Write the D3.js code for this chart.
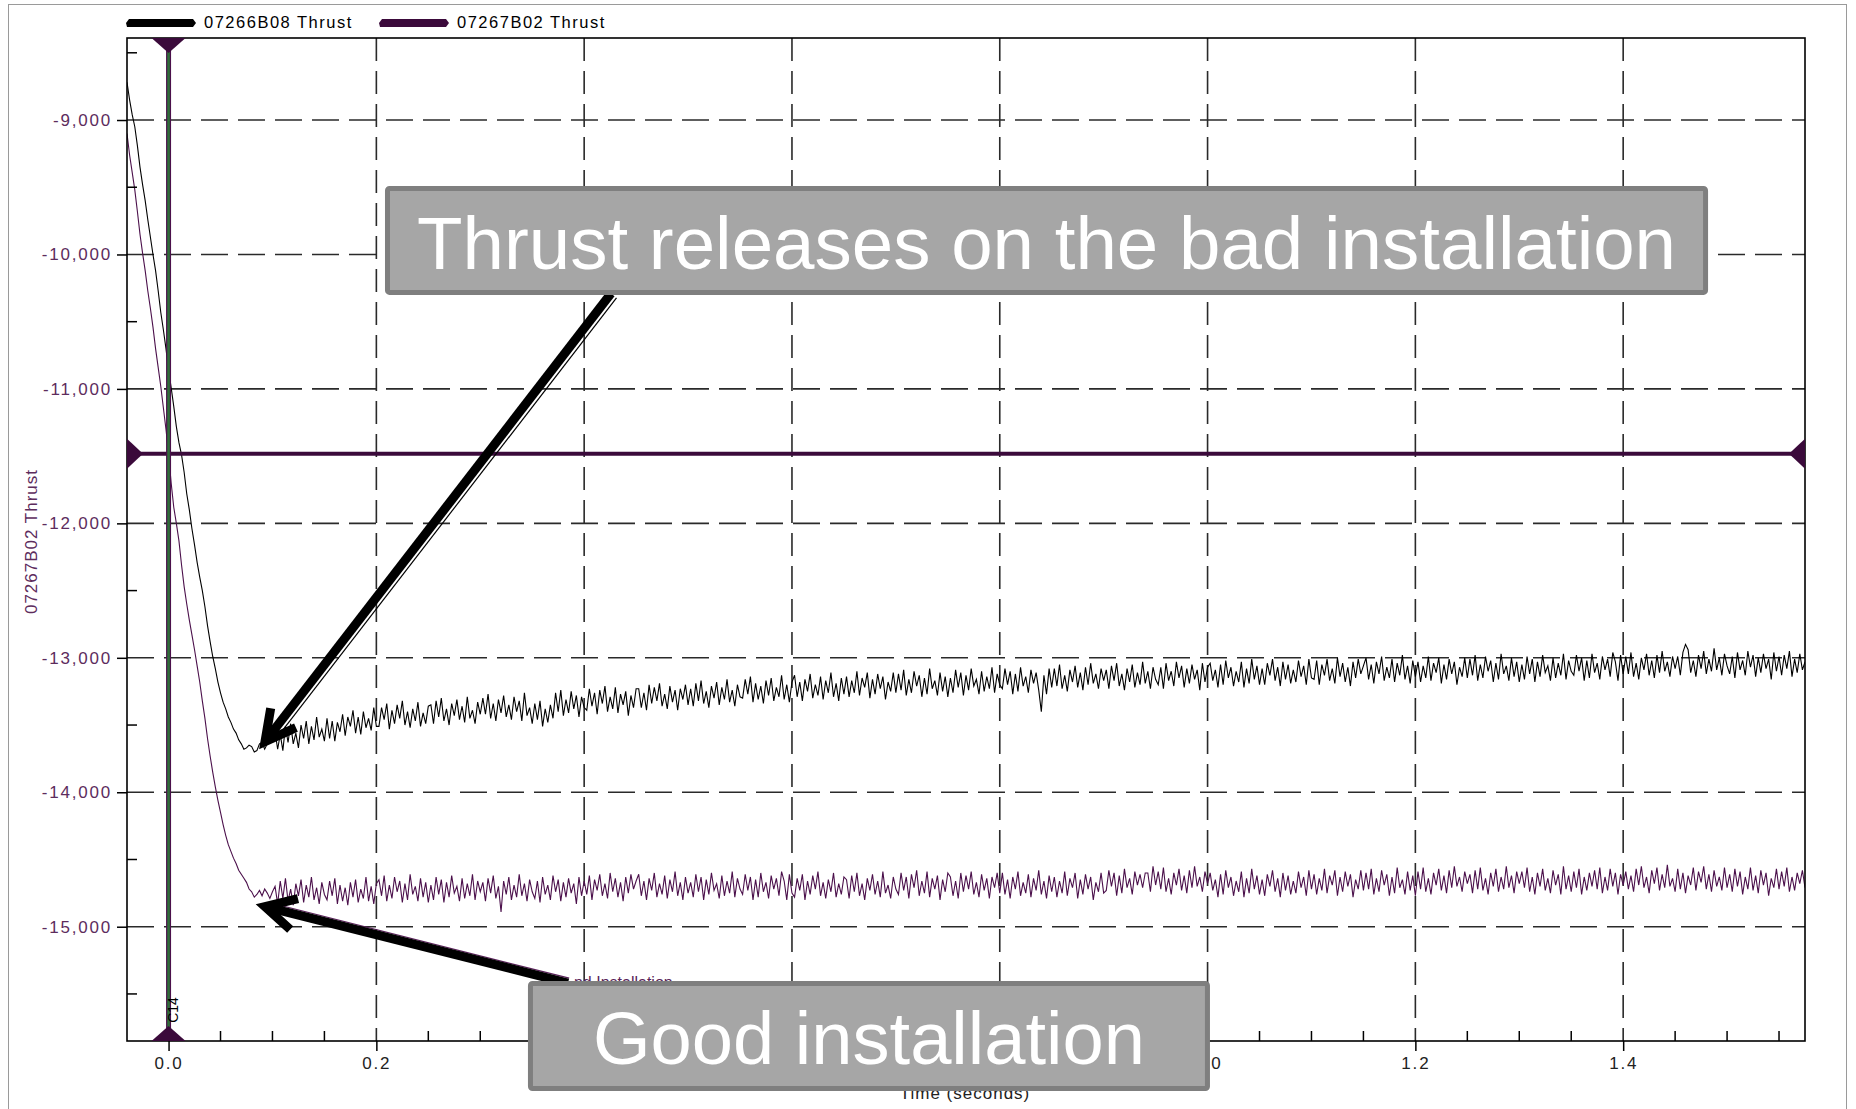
<!DOCTYPE html>
<html><head><meta charset="utf-8">
<script src="https://cdn.jsdelivr.net/npm/d3@7/dist/d3.min.js"></script>
<style>html,body{margin:0;padding:0;background:#fff;overflow:hidden}svg{display:block}</style>
</head><body>
<svg id="chart" width="1856" height="1109"></svg>
<script>
// ---------------- DATA ----------------
const seriesNames = ["07266B08 Thrust", "07267B02 Thrust"];
const yAxisTitle = "07267B02 Thrust";
const xAxisTitle = "Time  (seconds)";
const sampleStart = -0.04;     // seconds, first sample
const sampleStep = 0.0025;     // seconds between samples

const thrust07266B08 = [
  -8720,-8850,-8960,-9050,-9190,-9350,-9480,-9600,-9740,-9870,-10000,-10120,-10270,-10430,-10560,-10700,-10860,-10990,-11130,-11280,
  -11400,-11490,-11620,-11780,-11900,-12040,-12160,-12290,-12400,-12500,-12620,-12760,-12880,-12990,-13080,-13180,-13260,-13330,-13380,-13440,
  -13480,-13530,-13560,-13610,-13640,-13680,-13670,-13650,-13660,-13700,-13690,-13640,-13630,-13680,-13640,-13590,-13600,
  // 0.1025 - 0.2
  -13550,-13680,-13570,-13690,-13510,-13630,-13490,-13640,-13560,-13670,-13500,-13600,-13470,-13640,-13510,-13610,-13440,-13590,-13530,-13620,
  -13450,-13600,-13470,-13620,-13480,-13550,-13420,-13580,-13440,-13510,-13390,-13560,-13440,-13570,-13400,-13520,-13450,-13540,-13370,-13510,
  // 0.2 - 0.3
  -13510,-13370,-13460,-13340,-13530,-13390,-13490,-13350,-13450,-13320,-13500,-13400,-13520,-13380,-13470,-13330,-13510,-13410,-13490,-13360,
  -13350,-13490,-13320,-13440,-13300,-13470,-13380,-13500,-13340,-13430,-13310,-13460,-13360,-13480,-13290,-13450,-13390,-13490,-13330,-13420,
  // 0.3 - 0.4
  -13300,-13420,-13270,-13450,-13340,-13470,-13310,-13410,-13280,-13440,-13350,-13460,-13290,-13400,-13320,-13470,-13260,-13430,-13370,-13490,
  -13340,-13460,-13320,-13510,-13380,-13480,-13350,-13450,-13260,-13400,-13240,-13430,-13310,-13410,-13250,-13380,-13280,-13440,-13290,-13370,
  // 0.4 - 0.5
  -13390,-13230,-13360,-13260,-13420,-13240,-13340,-13210,-13400,-13290,-13380,-13220,-13410,-13270,-13350,-13250,-13430,-13280,-13370,-13230,
  -13230,-13370,-13260,-13390,-13200,-13340,-13220,-13320,-13190,-13360,-13270,-13380,-13210,-13330,-13240,-13390,-13230,-13310,-13200,-13350,
  // 0.5 - 0.6
  -13230,-13360,-13190,-13320,-13170,-13340,-13250,-13370,-13210,-13300,-13180,-13350,-13220,-13310,-13160,-13330,-13240,-13360,-13200,-13290,
  -13300,-13160,-13270,-13140,-13330,-13190,-13310,-13210,-13340,-13170,-13280,-13150,-13320,-13220,-13290,-13130,-13310,-13200,-13330,-13180,
  // 0.6 - 0.7
  -13130,-13290,-13180,-13320,-13160,-13250,-13120,-13300,-13200,-13280,-13140,-13310,-13170,-13260,-13110,-13290,-13190,-13320,-13150,-13270,
  -13140,-13290,-13170,-13260,-13100,-13280,-13150,-13220,-13110,-13300,-13160,-13270,-13120,-13230,-13140,-13310,-13180,-13250,-13110,-13260,
  // 0.7 - 0.8
  -13120,-13240,-13090,-13280,-13160,-13260,-13100,-13210,-13130,-13290,-13150,-13270,-13080,-13230,-13170,-13280,-13110,-13250,-13140,-13290,
  -13150,-13260,-13090,-13220,-13110,-13280,-13130,-13240,-13080,-13210,-13160,-13270,-13100,-13250,-13140,-13230,-13070,-13260,-13120,-13200,
  // 0.8 - 0.9
  -13230,-13080,-13200,-13100,-13270,-13120,-13250,-13070,-13210,-13140,-13260,-13090,-13190,-13110,-13240,-13400,-13130,-13270,-13080,-13220,
  -13080,-13210,-13050,-13230,-13130,-13250,-13090,-13180,-13060,-13220,-13110,-13240,-13070,-13200,-13040,-13190,-13120,-13230,-13080,-13170,
  // 0.9 - 1.0
  -13090,-13230,-13060,-13170,-13040,-13210,-13120,-13240,-13080,-13180,-13050,-13220,-13110,-13200,-13030,-13190,-13100,-13230,-13070,-13160,
  -13200,-13070,-13230,-13040,-13170,-13100,-13210,-13030,-13150,-13060,-13220,-13080,-13190,-13050,-13160,-13090,-13240,-13040,-13180,-13070,
  // 1.0 - 1.1
  -13040,-13170,-13090,-13220,-13050,-13200,-13020,-13150,-13070,-13210,-13100,-13180,-13030,-13220,-13080,-13190,-13010,-13160,-13060,-13200,
  -13080,-13200,-13040,-13130,-13010,-13170,-13070,-13210,-13030,-13160,-13050,-13190,-13090,-13180,-13020,-13140,-13060,-13200,-13010,-13150,
  // 1.1 - 1.2
  -13160,-13020,-13200,-13050,-13130,-13010,-13170,-13080,-13190,-13000,-13140,-13040,-13180,-13070,-13210,-13030,-13150,-13010,-13120,-13060,
  -13000,-13160,-13050,-13190,-13030,-13120,-12990,-13170,-13070,-13150,-13010,-13180,-13040,-13130,-12980,-13160,-13060,-13190,-13020,-13140,
  // 1.2 - 1.3
  -13030,-13180,-13060,-13150,-12990,-13170,-13040,-13110,-13000,-13190,-13050,-13160,-13010,-13120,-13030,-13200,-13070,-13140,-13000,-13150,
  -13010,-13130,-12980,-13170,-13050,-13150,-12990,-13100,-13020,-13180,-13040,-13160,-12970,-13120,-13060,-13170,-13000,-13140,-13030,-13180,
  // 1.3 - 1.4
  -13050,-13160,-12990,-13120,-13010,-13180,-13030,-13140,-12980,-13110,-13060,-13170,-13000,-13150,-13040,-13130,-12970,-13160,-13020,-13100,
  -13130,-12980,-13100,-13000,-13170,-13020,-13150,-12970,-13110,-13040,-13160,-12990,-13090,-13010,-13140,-12960,-13030,-13170,-12980,-13120,
  // 1.4 - 1.5
  -12990,-13120,-12960,-13140,-13040,-13160,-13000,-13090,-12970,-13130,-13020,-13150,-12980,-13110,-12950,-13100,-13030,-13140,-12990,-13080,
  -12990,-13130,-12960,-12900,-12940,-13110,-13020,-13140,-12980,-13080,-12950,-13120,-13010,-13100,-12930,-13090,-13000,-13130,-12970,-13060,
  // 1.5 - 1.575
  -13120,-12990,-13150,-12960,-13090,-13020,-13130,-12950,-13070,-12980,-13140,-13000,-13110,-12970,-13080,-13010,-13160,-12960,-13100,-12990,
  -13130,-12980,-13080,-12950,-13140,-13010,-13110,-12970,-13090,-13030
];

const thrust07267B02 = [
  -9100,-9260,-9390,-9520,-9680,-9850,-9990,-10120,-10270,-10400,-10540,-10700,-10840,-10980,-11140,-11300,-11480,-11700,-11880,-12000,
  -12130,-12310,-12470,-12600,-12720,-12830,-12940,-13060,-13180,-13320,-13450,-13600,-13730,-13850,-13960,-14060,-14150,-14240,-14320,-14390,
  -14440,-14490,-14530,-14580,-14610,-14640,-14670,-14720,-14740,-14780,-14760,-14730,-14770,-14720,-14750,-14790,-14740,
  // 0.1025 - 0.2
  -14700,-14830,-14660,-14790,-14640,-14810,-14720,-14840,-14680,-14770,-14650,-14820,-14690,-14780,-14630,-14800,-14710,-14830,-14670,-14760,
  -14800,-14660,-14770,-14640,-14830,-14690,-14810,-14710,-14840,-14670,-14780,-14650,-14820,-14720,-14790,-14630,-14810,-14700,-14830,-14680,
  // 0.2 - 0.3
  -14650,-14770,-14620,-14810,-14690,-14790,-14630,-14740,-14660,-14820,-14680,-14800,-14610,-14760,-14700,-14810,-14640,-14780,-14670,-14820,
  -14690,-14800,-14630,-14760,-14650,-14820,-14670,-14780,-14620,-14750,-14700,-14810,-14640,-14790,-14680,-14770,-14610,-14800,-14660,-14740,
  // 0.3 - 0.4
  -14670,-14810,-14640,-14750,-14620,-14790,-14700,-14890,-14660,-14760,-14630,-14800,-14690,-14780,-14610,-14770,-14680,-14810,-14650,-14740,
  -14790,-14660,-14820,-14630,-14760,-14690,-14800,-14620,-14740,-14650,-14810,-14670,-14780,-14640,-14750,-14680,-14830,-14630,-14770,-14660,
  // 0.4 - 0.5
  -14760,-14620,-14800,-14650,-14730,-14610,-14770,-14680,-14790,-14600,-14740,-14640,-14780,-14670,-14810,-14630,-14750,-14610,-14720,-14660,
  -14610,-14770,-14660,-14800,-14640,-14730,-14600,-14780,-14680,-14760,-14620,-14790,-14650,-14740,-14590,-14770,-14670,-14800,-14630,-14750,
  // 0.5 - 0.6
  -14670,-14780,-14610,-14740,-14630,-14800,-14650,-14760,-14600,-14730,-14680,-14790,-14620,-14770,-14660,-14750,-14590,-14780,-14640,-14720,
  -14760,-14610,-14730,-14630,-14800,-14650,-14780,-14600,-14740,-14670,-14790,-14620,-14720,-14640,-14770,-14590,-14660,-14800,-14610,-14750,
  // 0.6 - 0.7
  -14780,-14640,-14730,-14610,-14800,-14660,-14760,-14620,-14720,-14590,-14770,-14670,-14790,-14650,-14740,-14600,-14780,-14680,-14760,-14630,
  -14650,-14790,-14620,-14740,-14600,-14770,-14680,-14800,-14640,-14730,-14610,-14760,-14660,-14780,-14590,-14750,-14690,-14790,-14630,-14720,
  // 0.7 - 0.8
  -14760,-14600,-14730,-14630,-14790,-14610,-14710,-14580,-14770,-14660,-14750,-14590,-14780,-14640,-14720,-14620,-14800,-14650,-14740,-14600,
  -14630,-14770,-14660,-14790,-14600,-14740,-14620,-14720,-14590,-14760,-14670,-14780,-14610,-14730,-14640,-14790,-14630,-14710,-14600,-14750,
  // 0.8 - 0.9
  -14600,-14760,-14650,-14790,-14630,-14720,-14590,-14770,-14670,-14750,-14610,-14780,-14640,-14730,-14580,-14760,-14660,-14790,-14620,-14740,
  -14630,-14780,-14660,-14750,-14590,-14770,-14640,-14710,-14600,-14790,-14650,-14760,-14610,-14720,-14630,-14800,-14670,-14740,-14600,-14750,
  // 0.9 - 1.0
  -14730,-14580,-14700,-14600,-14770,-14620,-14750,-14570,-14710,-14640,-14760,-14590,-14690,-14610,-14710,-14600,-14600,-14740,-14550,-14690,
  -14590,-14720,-14560,-14740,-14640,-14760,-14600,-14690,-14570,-14730,-14620,-14750,-14580,-14710,-14550,-14700,-14630,-14740,-14590,-14680,
  // 1.0 - 1.1
  -14600,-14730,-14650,-14780,-14610,-14760,-14580,-14710,-14630,-14770,-14660,-14740,-14590,-14780,-14640,-14750,-14570,-14720,-14620,-14760,
  -14650,-14770,-14610,-14700,-14580,-14740,-14640,-14780,-14600,-14730,-14620,-14760,-14660,-14750,-14590,-14710,-14630,-14770,-14580,-14720,
  // 1.1 - 1.2
  -14610,-14760,-14640,-14730,-14570,-14750,-14620,-14690,-14580,-14770,-14630,-14740,-14590,-14700,-14610,-14780,-14650,-14720,-14580,-14730,
  -14600,-14720,-14570,-14760,-14640,-14740,-14580,-14690,-14610,-14770,-14630,-14750,-14560,-14710,-14650,-14760,-14590,-14730,-14620,-14770,
  // 1.2 - 1.3
  -14590,-14720,-14560,-14740,-14640,-14760,-14600,-14690,-14570,-14730,-14620,-14750,-14580,-14710,-14550,-14700,-14630,-14740,-14590,-14680,
  -14610,-14750,-14580,-14720,-14560,-14730,-14640,-14760,-14600,-14700,-14570,-14740,-14630,-14720,-14550,-14710,-14620,-14750,-14590,-14680,
  // 1.3 - 1.4
  -14590,-14710,-14560,-14740,-14630,-14760,-14600,-14700,-14570,-14730,-14640,-14750,-14580,-14690,-14610,-14760,-14550,-14720,-14620,-14740,
  -14590,-14710,-14570,-14760,-14630,-14730,-14600,-14700,-14580,-14720,-14560,-14750,-14630,-14730,-14570,-14700,-14600,-14760,-14610,-14690,
  // 1.4 - 1.5
  -14590,-14720,-14620,-14740,-14570,-14690,-14550,-14710,-14630,-14750,-14580,-14680,-14560,-14730,-14610,-14710,-14540,-14700,-14640,-14740,
  -14570,-14720,-14600,-14750,-14620,-14690,-14560,-14730,-14590,-14670,-14550,-14720,-14610,-14740,-14580,-14700,-14630,-14730,-14560,-14710,
  // 1.5 - 1.575
  -14610,-14740,-14570,-14700,-14590,-14760,-14630,-14720,-14560,-14730,-14620,-14750,-14580,-14690,-14600,-14770,-14640,-14710,-14570,-14720,
  -14590,-14700,-14560,-14740,-14630,-14730,-14600,-14680,-14580,-14710
];

const yMajorTicks = [-9000,-10000,-11000,-12000,-13000,-14000,-15000];
const yMinorTicks = [-8500,-9500,-10500,-11500,-12500,-13500,-14500,-15500];
const xMajorTicks = [0.0,0.2,0.4,0.6,0.8,1.0,1.2,1.4];
const xMinorTicks = [0.05,0.1,0.15,0.25,0.3,0.35,0.45,0.5,0.55,0.65,0.7,0.75,0.85,0.9,0.95,1.05,1.1,1.15,1.25,1.3,1.35,1.45,1.5,1.55];

const cursorTime = 0.0, cursorThrust = -11483, cursorLabel = "C14";

// annotation callouts (data coordinates: time, thrust)
const callouts = [
  {text:"Thrust releases on the bad installation", box:[0.2083,-9491,1.4817,-10301],
   from:[0.4258,-10291], to:[0.0928,-13624], thinColor:"#000", thinOffset:7, thinText:null},
  {text:"Good installation", box:[0.3459,-15404,1.0023,-16222],
   from:[0.3844,-15419], to:[0.0928,-14851], thinColor:"#5a1f5a", thinOffset:-5, thinText:"nd Installation"}
];

// ---------------- LAYOUT ----------------
const W = 1856, H = 1109;
const plot = {left:127, right:1805, top:38, bottom:1041};
const purple = "#4b104b", darkPurple = "#3b0a3b", labelPurple = "#5d2c5d";
const svg = d3.select("#chart");

const x = d3.scaleLinear().domain([-0.04, 1.575]).range([plot.left, plot.right]);
const y = d3.scaleLinear().domain([-15850, -8390]).range([plot.bottom, plot.top]);

// outer frame
svg.append("rect").attr("x",8.5).attr("y",4.5).attr("width",W-18).attr("height",H+10)
  .attr("fill","none").attr("stroke","#9a9a9a").attr("stroke-width",1);

// grid
const grid = svg.append("g");
grid.selectAll("line.h").data(yMajorTicks).join("line")
  .attr("x1",plot.left).attr("x2",plot.right).attr("y1",d=>y(d)).attr("y2",d=>y(d))
  .attr("stroke","#2a2a2a").attr("stroke-width",1.6).attr("stroke-dasharray","27,10");
grid.selectAll("line.v").data(xMajorTicks.filter(d=>d>0)).join("line")
  .attr("x1",d=>x(d)).attr("x2",d=>x(d)).attr("y1",plot.top).attr("y2",plot.bottom)
  .attr("stroke","#2a2a2a").attr("stroke-width",1.6).attr("stroke-dasharray","23,10");

// clip
svg.append("clipPath").attr("id","clip").append("rect")
  .attr("x",plot.left).attr("y",plot.top).attr("width",plot.right-plot.left).attr("height",plot.bottom-plot.top);

const line = d3.line().x((d,i)=>x(sampleStart + i*sampleStep)).y(d=>y(d));
const lines = svg.append("g").attr("clip-path","url(#clip)");
lines.append("path").datum(thrust07267B02).attr("d",line).attr("fill","none").attr("stroke",purple).attr("stroke-width",1.1);
lines.append("path").datum(thrust07266B08).attr("d",line).attr("fill","none").attr("stroke","#000").attr("stroke-width",1.1);

// axes
const font = "'Liberation Sans', Arial, sans-serif";
const fmtY = d => d3.format(",")(d).replace("\u2212","-");
const yAxis = svg.append("g").attr("transform",`translate(${plot.left},0)`)
  .call(d3.axisLeft(y).tickValues(yMajorTicks).tickSize(10).tickPadding(5).tickFormat(fmtY));
yAxis.select(".domain").remove();
yAxis.selectAll("line").attr("stroke","#000").attr("stroke-width",1.5);
yAxis.selectAll("text").attr("fill",labelPurple).style("font-family",font).style("font-size","17px").style("letter-spacing","1.8px");

const xAxis = svg.append("g").attr("transform",`translate(0,${plot.bottom})`)
  .call(d3.axisBottom(x).tickValues(xMajorTicks).tickSize(10).tickPadding(6).tickFormat(d3.format(".1f")));
xAxis.select(".domain").remove();
xAxis.selectAll("line").attr("stroke","#000").attr("stroke-width",1.5);
xAxis.selectAll("text").attr("fill","#222").style("font-family",font).style("font-size","17px").style("letter-spacing","1.8px");

// minor ticks (inside)
svg.append("g").selectAll("line").data(yMinorTicks.filter(d=>y(d)>plot.top && y(d)<plot.bottom)).join("line")
  .attr("x1",plot.left).attr("x2",plot.left+10).attr("y1",d=>y(d)).attr("y2",d=>y(d)).attr("stroke","#000").attr("stroke-width",1.5);
svg.append("g").selectAll("line").data(xMinorTicks).join("line")
  .attr("x1",d=>x(d)).attr("x2",d=>x(d)).attr("y1",plot.bottom).attr("y2",plot.bottom-10).attr("stroke","#000").attr("stroke-width",1.5);

// plot frame
svg.append("rect").attr("x",plot.left).attr("y",plot.top).attr("width",plot.right-plot.left).attr("height",plot.bottom-plot.top)
  .attr("fill","none").attr("stroke","#000").attr("stroke-width",1.6);

// axis titles
svg.append("text").attr("transform",`translate(37,${(plot.top+plot.bottom)/2+2}) rotate(-90)`)
  .attr("text-anchor","middle").attr("fill",labelPurple).style("font-family",font).style("font-size","17px").style("letter-spacing","1px")
  .text(yAxisTitle);
svg.append("text").attr("x",965).attr("y",1099).attr("text-anchor","middle").attr("fill","#222")
  .style("font-family",font).style("font-size","17px").style("letter-spacing","1px").text(xAxisTitle);

// cursors
const cx = x(cursorTime), cy = y(cursorThrust);
svg.append("line").attr("x1",plot.left).attr("x2",plot.right).attr("y1",cy).attr("y2",cy).attr("stroke",darkPurple).attr("stroke-width",4);
svg.append("path").attr("d",`M${plot.left},${cy-15}L${plot.left+16},${cy}L${plot.left},${cy+15}Z`).attr("fill",darkPurple);
svg.append("path").attr("d",`M${plot.right},${cy-15}L${plot.right-16},${cy}L${plot.right},${cy+15}Z`).attr("fill",darkPurple);
svg.append("line").attr("x1",cx).attr("x2",cx).attr("y1",plot.top).attr("y2",plot.bottom).attr("stroke",purple).attr("stroke-width",5);
svg.append("line").attr("x1",cx).attr("x2",cx).attr("y1",plot.top).attr("y2",plot.bottom).attr("stroke","#2f6e3a").attr("stroke-width",2.6);
svg.append("path").attr("d",`M${cx-17},${plot.top}L${cx+17},${plot.top}L${cx},${plot.top+15}Z`).attr("fill",darkPurple);
svg.append("path").attr("d",`M${cx-17},${plot.bottom}L${cx+17},${plot.bottom}L${cx},${plot.bottom-15}Z`).attr("fill",darkPurple);
svg.append("text").attr("transform",`translate(${cx+9},1010) rotate(-90)`).attr("text-anchor","middle")
  .attr("fill","#000").style("font-family",font).style("font-size","14px").text(cursorLabel);

// legend
const legend = [{name:seriesNames[0], color:"#000", x:127}, {name:seriesNames[1], color:darkPurple, x:380}];
legend.forEach(l=>{
  svg.append("path").attr("d",`M${l.x+2},${19}L${l.x+66},${19}L${l.x+69},${23}L${l.x+66},${27}L${l.x},${27}L${l.x-1},${23}Z`).attr("fill",l.color);
  svg.append("text").attr("x",l.x+77).attr("y",28).attr("fill","#000").style("font-family",font)
    .style("font-size","16.5px").style("letter-spacing","1.5px").text(l.name);
});

// callouts
callouts.forEach(c=>{
  const p0 = [x(c.from[0]), y(c.from[1])], p1 = [x(c.to[0]), y(c.to[1])];
  const dx = p0[0]-p1[0], dy = p0[1]-p1[1], len = Math.hypot(dx,dy);
  const ux = dx/len, uy = dy/len, nx = -uy, ny = ux;
  const off = c.thinOffset;
  svg.append("line").attr("x1",p1[0]+nx*off+ux*8).attr("y1",p1[1]+ny*off+uy*8)
    .attr("x2",p0[0]+nx*off).attr("y2",p0[1]+ny*off).attr("stroke",c.thinColor).attr("stroke-width",1.2);
  if (c.thinText) {
    svg.append("text").attr("x",p0[0]+6).attr("y",p0[1]+5).attr("fill",c.thinColor)
      .style("font-family",font).style("font-size","16px").text(c.thinText);
  }
  const ang = Math.atan2(uy,ux), a = 28*Math.PI/180, bl = 34;
  const b1 = [p1[0]+bl*Math.cos(ang-a), p1[1]+bl*Math.sin(ang-a)];
  const b2 = [p1[0]+bl*Math.cos(ang+a), p1[1]+bl*Math.sin(ang+a)];
  svg.append("line").attr("x1",p0[0]).attr("y1",p0[1]).attr("x2",p1[0]+ux*4).attr("y2",p1[1]+uy*4)
    .attr("stroke","#000").attr("stroke-width",9);
  svg.append("path").attr("d",`M${b1}L${p1}L${b2}`).attr("fill","none").attr("stroke","#000")
    .attr("stroke-width",9).attr("stroke-linejoin","miter").attr("stroke-miterlimit",6);
  const bx0 = x(c.box[0]), by0 = y(c.box[1]), bx1 = x(c.box[2]), by1 = y(c.box[3]);
  svg.append("rect").attr("x",bx0+2.5).attr("y",by0+2.5).attr("width",bx1-bx0-5).attr("height",by1-by0-5)
    .attr("rx",2).attr("fill","#a6a6a6").attr("stroke","#7f7f7f").attr("stroke-width",5);
  const tw = c.text.length > 20 ? (bx1-bx0)-64 : (bx1-bx0)-130;
  svg.append("text").attr("x",(bx0+bx1)/2).attr("y",by0+83).attr("text-anchor","middle")
    .attr("fill","#fff").style("font-family",font).style("font-size","75px")
    .attr("textLength",tw).attr("lengthAdjust","spacingAndGlyphs").text(c.text);
});
</script>
</body></html>
